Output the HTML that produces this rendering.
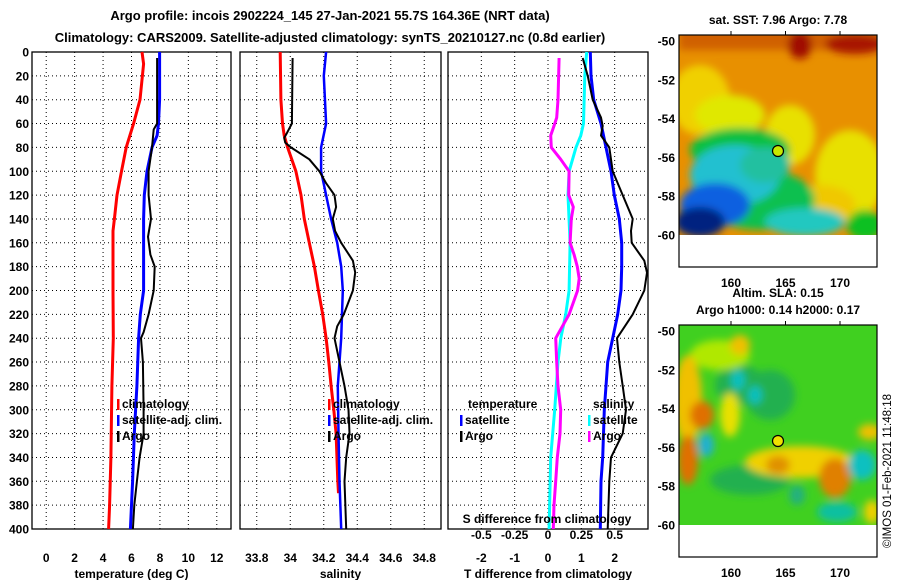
<!DOCTYPE html>
<html><head><meta charset="utf-8">
<style>
body{margin:0;background:#fff;}
svg{display:block;font-family:"Liberation Sans",sans-serif;font-weight:bold;}
</style></head>
<body>
<svg id="chart" width="900" height="580" viewBox="0 0 900 580" xmlns="http://www.w3.org/2000/svg">
<defs>
<filter id="bl" x="-20%" y="-20%" width="140%" height="140%"><feGaussianBlur stdDeviation="4"/></filter>
<filter id="bl2" x="-20%" y="-20%" width="140%" height="140%"><feGaussianBlur stdDeviation="4"/></filter>
<clipPath id="c1"><rect x="679" y="35" width="198" height="200"/></clipPath>
<clipPath id="c2"><rect x="679" y="325" width="198" height="200"/></clipPath>
</defs>
<text x="330" y="20" font-size="13" text-anchor="middle">Argo profile: incois 2902224_145 27-Jan-2021 55.7S 164.36E (NRT data)</text>
<text x="330" y="42" font-size="13" text-anchor="middle">Climatology: CARS2009. Satellite-adjusted climatology: synTS_20210127.nc (0.8d earlier)</text>
<g id="plots"></g>

<!-- map 1 -->
<g>
<rect x="679" y="35" width="198" height="232" fill="#fff"/>
<g clip-path="url(#c1)">
<rect x="679" y="35" width="198" height="200" fill="#e89000"/>
<g filter="url(#bl)">
<rect x="679" y="28" width="200" height="22" fill="#d06000"/>
<ellipse cx="800" cy="45" rx="12" ry="14" fill="#a01000"/>
<ellipse cx="855" cy="44" rx="30" ry="10" fill="#a81800"/>
<ellipse cx="700" cy="100" rx="30" ry="35" fill="#f0d000"/>
<ellipse cx="730" cy="115" rx="35" ry="20" fill="#e0e800"/>
<ellipse cx="790" cy="135" rx="25" ry="30" fill="#e8e000"/>
<ellipse cx="850" cy="175" rx="35" ry="45" fill="#e8e000"/>
<ellipse cx="820" cy="205" rx="35" ry="20" fill="#f0c800"/>
<ellipse cx="740" cy="150" rx="50" ry="22" fill="#10c040"/>
<ellipse cx="760" cy="200" rx="55" ry="30" fill="#10c050"/>
<ellipse cx="735" cy="175" rx="45" ry="30" fill="#20c0d0"/>
<ellipse cx="765" cy="165" rx="25" ry="18" fill="#20c0a0"/>
<ellipse cx="805" cy="222" rx="40" ry="14" fill="#20c8c0"/>
<ellipse cx="715" cy="205" rx="35" ry="22" fill="#1060e0"/>
<ellipse cx="700" cy="222" rx="25" ry="15" fill="#002080"/>
<ellipse cx="865" cy="225" rx="18" ry="15" fill="#10c020"/>
</g>
</g>
<rect x="679" y="35" width="198" height="232" fill="none" stroke="#000" stroke-width="1.2"/>
<circle cx="778" cy="151" r="5.5" fill="#c8e800" stroke="#000" stroke-width="1.2"/>
<text x="778" y="24" font-size="12" text-anchor="middle">sat. SST: 7.96 Argo: 7.78</text>
</g>
<!-- map 2 -->
<g>
<rect x="679" y="325" width="198" height="232" fill="#fff"/>
<g clip-path="url(#c2)">
<rect x="679" y="325" width="198" height="200" fill="#40d020"/>
<g filter="url(#bl2)">
<ellipse cx="740" cy="385" rx="25" ry="20" fill="#20b050"/>
<ellipse cx="770" cy="395" rx="25" ry="25" fill="#20b050"/>
<ellipse cx="750" cy="480" rx="40" ry="15" fill="#20b050"/>
<ellipse cx="720" cy="355" rx="30" ry="15" fill="#b0e800"/>
<ellipse cx="688" cy="400" rx="14" ry="45" fill="#f0c000"/>
<ellipse cx="702" cy="415" rx="12" ry="14" fill="#e07000"/>
<ellipse cx="688" cy="460" rx="10" ry="25" fill="#e07000"/>
<ellipse cx="738" cy="380" rx="7" ry="10" fill="#10c0c0"/>
<ellipse cx="755" cy="395" rx="7" ry="9" fill="#10c0c0"/>
<ellipse cx="706" cy="445" rx="8" ry="12" fill="#20b0d0"/>
<ellipse cx="730" cy="415" rx="10" ry="22" fill="#e8e000"/>
<ellipse cx="800" cy="462" rx="55" ry="16" fill="#f0d000"/>
<ellipse cx="778" cy="465" rx="12" ry="9" fill="#e09000"/>
<ellipse cx="835" cy="478" rx="16" ry="20" fill="#e08000"/>
<ellipse cx="862" cy="465" rx="14" ry="15" fill="#10c0c0"/>
<ellipse cx="837" cy="512" rx="20" ry="10" fill="#10c0a0"/>
<ellipse cx="870" cy="432" rx="12" ry="8" fill="#f0c000"/>
<ellipse cx="872" cy="512" rx="8" ry="12" fill="#f0d000"/>
<ellipse cx="797" cy="495" rx="8" ry="10" fill="#20b080"/>
<ellipse cx="740" cy="345" rx="10" ry="10" fill="#f0c000"/>
</g>
</g>
<rect x="679" y="325" width="198" height="232" fill="none" stroke="#000" stroke-width="1.2"/>
<circle cx="778" cy="441" r="5.5" fill="#f0e000" stroke="#000" stroke-width="1.2"/>
<text x="778" y="297" font-size="12" text-anchor="middle">Altim. SLA: 0.15</text>
<text x="778" y="314" font-size="12" text-anchor="middle">Argo h1000: 0.14 h2000: 0.17</text>
<text transform="translate(891,548) rotate(-90)" font-size="11.5" font-weight="normal">©IMOS 01-Feb-2021 11:48:18</text>
</g>
</svg>
<script>
// ---------- data ----------
const depthTicks = [0,20,40,60,80,100,120,140,160,180,200,220,240,260,280,300,320,340,360,380,400];
const tTicks = [0,2,4,6,8,10,12];
const sTicks = [33.8,34,34.2,34.4,34.6,34.8];
const dTicks = [-2,-1,0,1,2];
const dsTicks = [-0.5,-0.25,0,0.25,0.5];
const latTicks = [-50,-52,-54,-56,-58,-60];
const lonTicks = [160,165,170];

const tClimDepth = [0,10,40,60,80,100,120,140,150,200,240,280,340,380,400];
const tClim = [6.74,6.85,6.6,6.15,5.63,5.3,4.98,4.8,4.7,4.7,4.72,4.62,4.55,4.46,4.39];
const tSatDepth = [0,40,60,70,80,100,120,140,200,220,240,280,320,360,400];
const tSat = [7.98,7.98,7.9,7.8,7.44,7.09,6.9,6.85,6.85,6.62,6.5,6.38,6.2,6.08,5.92];
const tArgoDepth = [5,60,65,80,100,120,140,155,170,180,200,220,235,240,260,300,320,340,360,380,400];
const tArgo = [7.8,7.8,7.56,7.44,7.2,7.2,7.37,7.16,7.33,7.63,7.56,7.2,6.85,6.67,6.8,6.85,6.85,6.57,6.38,6.2,6.1];

const sClimDepth = [0,40,60,70,80,100,120,140,160,180,200,220,240,260,280,300,320,360,370];
const sClim = [33.94,33.944,33.954,33.964,33.984,34.034,34.064,34.084,34.114,34.144,34.168,34.194,34.214,34.23,34.244,34.26,34.274,34.284,34.288];
const sSatDepth = [0,20,60,80,100,120,140,160,180,200,240,280,320,360,400];
const sSat = [34.214,34.2,34.214,34.184,34.184,34.214,34.244,34.28,34.304,34.314,34.304,34.284,34.288,34.294,34.304];
const sArgoDepth = [5,60,68,72,76,80,90,100,110,120,130,140,150,160,175,185,200,220,230,240,260,280,300,320,340,360,400];
const sArgo = [34.014,34.01,33.98,33.964,33.97,34.004,34.114,34.174,34.214,34.264,34.274,34.254,34.268,34.304,34.374,34.388,34.374,34.32,34.28,34.264,34.294,34.324,34.348,34.354,34.334,34.324,34.334];

const dSSatDepth = [0,20,60,70,80,100,120,160,200,220,240,260,300,340,400];
const dSSat = [0.29,0.276,0.266,0.246,0.21,0.158,0.15,0.166,0.158,0.133,0.096,0.075,0.05,0.02,0.008];
const dSArgoDepth = [5,40,55,62,70,80,90,100,120,130,140,160,170,180,190,200,220,240,260,280,300,320,340,360,380,400];
const dSArgo = [0.083,0.075,0.065,0.045,0.02,0.025,0.095,0.158,0.155,0.19,0.175,0.166,0.196,0.22,0.234,0.222,0.158,0.058,0.065,0.075,0.095,0.09,0.07,0.058,0.045,0.04];
const dTSatDepth = [0,20,40,60,80,100,120,140,160,180,200,220,240,260,300,340,360,400];
const dTSat = [1.27,1.29,1.37,1.59,1.74,1.89,1.99,2.14,2.21,2.21,2.19,2.09,1.94,1.79,1.69,1.64,1.59,1.57];
const dTArgoDepth = [5,20,40,55,62,70,80,100,120,140,150,160,175,185,200,220,240,260,280,300,320,340,360,400];
const dTArgo = [1.04,1.19,1.34,1.59,1.64,1.59,1.84,1.94,2.24,2.54,2.49,2.51,2.89,2.97,2.89,2.54,2.07,2.14,2.24,2.34,2.24,1.89,1.84,1.79];

// ---------- drawing ----------
const NS = 'http://www.w3.org/2000/svg';
const root = document.getElementById('plots');
const Y0 = 52, Y1 = 529;
const yOf = d => Y0 + (d/400)*(Y1-Y0);
function mk(tag, attrs, parent){
  const e = document.createElementNS(NS, tag);
  for (const k in attrs) e.setAttribute(k, attrs[k]);
  (parent||root).appendChild(e);
  return e;
}
function panel(name, x0, x1, vmin, vmax, ticks, label){
  const g = mk('g', {});
  
  
  const xOf = v => x0 + (v-vmin)/(vmax-vmin)*(x1-x0);
  ticks.forEach(t => {
    const x = xOf(t);
    const l = mk('line', {x1:x, x2:x, y1:Y0, y2:Y1, stroke:'#000', 'stroke-width':1, 'stroke-dasharray':'1,3'}, g);
    
    
    const tx = mk('text', {x:x, y:Y1+33, 'font-size':12, 'text-anchor':'middle'}, g);
    
    
    tx.textContent = t;
  });
  depthTicks.forEach(d => {
    if (d===0 || d===400) return;
    const y = yOf(d);
    const l = mk('line', {x1:x0, x2:x1, y1:y, y2:y, stroke:'#000', 'stroke-width':1, 'stroke-dasharray':'1,3'}, g);
    
    
  });
  const fr = mk('rect', {x:x0, y:Y0, width:x1-x0, height:Y1-Y0, fill:'none', stroke:'#000', 'stroke-width':1.3}, g);
  
  
  const lt = mk('text', {x:(x0+x1)/2, y:578, 'font-size':12, 'text-anchor':'middle'}, g);
  
  
  lt.textContent = label;
  return {g, xOf};
}
function series(p, name, depths, vals, color, w, scale){
  const s = scale || 1;
  const pts = depths.map((d,i) => p.xOf(vals[i]*s).toFixed(1)+','+yOf(d).toFixed(1)).join(' ');
  const pl = mk('polyline', {points:pts, fill:'none', stroke:color, 'stroke-width':w, 'stroke-linejoin':'round'}, p.g);
  
  
}
function legend(g, x, y, items){
  items.forEach((it,i) => {
    const yy = y + i*16;
    const m = mk('rect', {x:x, y:yy-9, width:2.5, height:11, fill:it[1]}, g);
    
    
    const t = mk('text', {x:x+5, y:yy, 'font-size':12}, g);
    
    
    t.textContent = it[0];
  });
}

depthTicks.forEach(d => {
  const t = mk('text', {x:29, y:yOf(d)+4.5, 'font-size':12, 'text-anchor':'end'});
  
  
  t.textContent = d;
});

const p1 = panel('temperature-panel', 32, 231, -1, 13, tTicks, 'temperature (deg C)');
series(p1, 'temperature-climatology-line', tClimDepth, tClim, '#f00', 3);
series(p1, 'temperature-satellite-line', tSatDepth, tSat, '#00f', 3);
series(p1, 'temperature-argo-line', tArgoDepth, tArgo, '#000', 2);
legend(p1.g, 117, 408, [['climatology','#f00'],['satellite-adj. clim.','#00f'],['Argo','#000']]);

const p2 = panel('salinity-panel', 240, 441, 33.7, 34.9, sTicks, 'salinity');
series(p2, 'salinity-climatology-line', sClimDepth, sClim, '#f00', 3);
series(p2, 'salinity-satellite-line', sSatDepth, sSat, '#00f', 2.5);
series(p2, 'salinity-argo-line', sArgoDepth, sArgo, '#000', 2);
legend(p2.g, 328, 408, [['climatology','#f00'],['satellite-adj. clim.','#00f'],['Argo','#000']]);

const p3 = panel('difference-panel', 448, 648, -3, 3, dTicks, 'T difference from climatology');
series(p3, 'salinity-diff-satellite-line', dSSatDepth, dSSat, '#0ff', 3, 4);
series(p3, 'salinity-diff-argo-line', dSArgoDepth, dSArgo, '#f0f', 3, 4);
series(p3, 'temperature-diff-satellite-line', dTSatDepth, dTSat, '#00f', 3);
series(p3, 'temperature-diff-argo-line', dTArgoDepth, dTArgo, '#000', 2);
dsTicks.forEach(v => {
  const t = mk('text', {x:p3.xOf(v*4), y:539, 'font-size':12, 'text-anchor':'middle'}, p3.g);
  
  
  t.textContent = v;
});
const st = mk('text', {x:547, y:523, 'font-size':12, 'text-anchor':'middle'}, p3.g);


st.textContent = 'S difference from climatology';
const lh1 = mk('text', {x:468, y:408, 'font-size':12}, p3.g);


lh1.textContent = 'temperature';
const lh2 = mk('text', {x:593, y:408, 'font-size':12}, p3.g);


lh2.textContent = 'salinity';
legend(p3.g, 460, 424, [['satellite','#00f'],['Argo','#000']]);
legend(p3.g, 588, 424, [['satellite','#0ff'],['Argo','#f0f']]);

function mapAxes(top){
  const g = mk('g', {});
  
  
  const yLat = v => top + 6 + (-50 - v)*19.4;
  latTicks.forEach(v => {
    const y = yLat(v);
    mk('line', {x1:679, x2:683, y1:y, y2:y, stroke:'#000'}, g);
    mk('line', {x1:873, x2:877, y1:y, y2:y, stroke:'#000'}, g);
    const t = mk('text', {x:675, y:y+4.5, 'font-size':12, 'text-anchor':'end'}, g);
    
    
    t.textContent = v;
  });
  const xLon = v => 731 + (v-160)*10.9;
  lonTicks.forEach(v => {
    const x = xLon(v);
    mk('line', {x1:x, x2:x, y1:top-4, y2:top, stroke:'#000'}, g);
    const t = mk('text', {x:x, y:top+252, 'font-size':12, 'text-anchor':'middle'}, g);
    
    
    t.textContent = v;
  });
}
mapAxes(35); mapAxes(325);
</script>
</body></html>
